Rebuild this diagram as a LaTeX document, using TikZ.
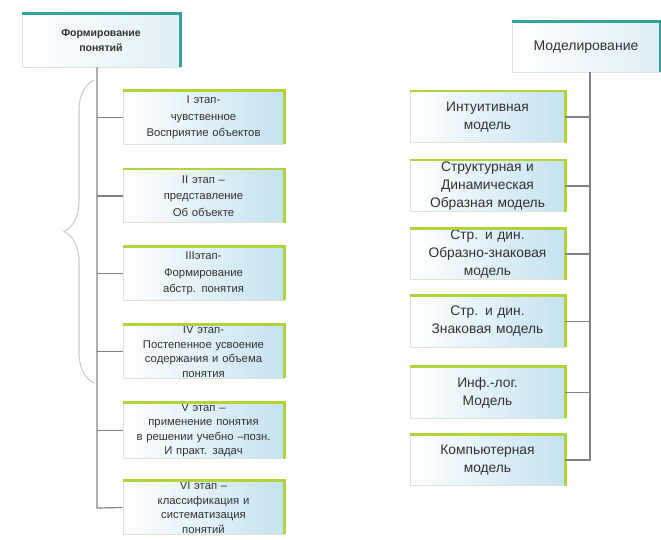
\documentclass[tikz,border=0pt]{standalone}
\usepackage{fontspec}
\setmainfont{Liberation Sans}
\usetikzlibrary{decorations.pathreplacing}
\definecolor{boxblue}{RGB}{196,226,240}
\definecolor{greenline}{RGB}{176,212,58}
\definecolor{tealline}{RGB}{52,164,150}
\definecolor{edgegrey}{RGB}{222,228,214}
\definecolor{conngrey}{RGB}{130,130,130}
\definecolor{txt}{RGB}{50,50,50}
\tikzset{
  stagebox/.style={draw=edgegrey, line width=0.6pt, left color=white, right color=boxblue,
    minimum width=161pt, minimum height=53pt, text width=158pt, align=center,
    font=\fontsize{11.3}{14.5}\selectfont, text=txt, inner sep=1pt},
  modelbox/.style={draw=edgegrey, line width=0.6pt, left color=white, right color=boxblue,
    minimum width=155pt, minimum height=51pt, text width=152pt, align=center,
    font=\fontsize{13.8}{18}\selectfont, text=txt, inner sep=1pt},
  headbox/.style={draw=edgegrey, line width=0.6pt, left color=white, right color=boxblue!55,
    align=center, text=txt, inner sep=1pt},
  greenedge/.style={draw=greenline, line width=2.6pt},
  tealedge/.style={draw=tealline, line width=2.6pt},
  conn/.style={draw=conngrey, line width=1.2pt},
  bracestyle/.style={draw=black!20, line width=1.1pt, decorate,
    decoration={brace, amplitude=30pt}}
}
\begin{document}
\begin{tikzpicture}[x=1pt,y=-1pt]
\useasboundingbox (0,0) rectangle (661,540);

% headers
\node[headbox, minimum width=158pt, minimum height=53pt, text width=155pt,
  font=\bfseries\fontsize{10.5}{15}\selectfont] (ltop) at (101,40.5) {Формирование\\понятий};
\node[headbox, minimum width=148pt, minimum height=50pt, text width=146pt,
  font=\fontsize{14}{16}\selectfont] (rtop) at (586,47) {Моделирование};

% left stages
\node[stagebox, font=\fontsize{11.3}{16.5}\selectfont] (l1) at (203.5,117.5) {I этап-\\чувственное\\Восприятие объектов};
\node[stagebox, font=\fontsize{11.3}{16.5}\selectfont] (l2) at (203.5,196) {II этап –\\представление\\Об объекте};
\node[stagebox, font=\fontsize{11.3}{16.5}\selectfont] (l3) at (203.5,273.5) {IIIэтап-\\Формирование\\абстр. понятия};
\node[stagebox] (l4) at (203.5,351.5) {IV этап-\\Постепенное усвоение\\содержания и объема\\понятия};
\node[stagebox] (l5) at (203.5,430.5) {V этап –\\применение понятия\\в решении учебно –позн.\\И практ. задач};
\node[stagebox] (l6) at (203.5,507.5) {VI этап –\\классификация и\\систематизация\\понятий};

% right models
\node[modelbox] (r1) at (487.5,117) {Интуитивная\\модель};
\node[modelbox] (r2) at (487.5,186) {Структурная и\\Динамическая\\Образная модель};
\node[modelbox] (r3) at (487.5,254) {Стр. и дин.\\Образно-знаковая\\модель};
\node[modelbox] (r4) at (487.5,321.5) {Стр. и дин.\\Знаковая модель};
\node[modelbox] (r5) at (487.5,392.5) {Инф.-лог.\\Модель};
\node[modelbox] (r6) at (487.5,460) {Компьютерная\\модель};

% coloured top/right edges
\foreach \n in {l1,l2,l3,l4,l5,l6,r1,r2,r3,r4,r5,r6}
  \draw[greenedge] (\n.north west) -- (\n.north east) -- (\n.south east);
\foreach \n in {ltop,rtop}
  \draw[tealedge] (\n.north west) -- (\n.north east) -- (\n.south east);

% connectors
\coordinate (lsp) at (97,508);
\coordinate (rsp) at (590,460);
\draw[conn] (ltop.south -| lsp) -- (lsp) -- (l6.west);
\foreach \n in {l1,l2,l3,l4,l5}
  \draw[conn] (\n.west -| lsp) -- (\n.west);
\draw[conn] (rtop.south -| rsp) -- (rsp) -- (r6.east);
\foreach \n in {r1,r2,r3,r4,r5}
  \draw[conn] (\n.east) -- (\n.east -| rsp);

% brace
\coordinate (bb) at (94,383);
\coordinate (bt) at (94,80);
\draw[bracestyle] (bb) -- (bt);
\end{tikzpicture}
\end{document}
